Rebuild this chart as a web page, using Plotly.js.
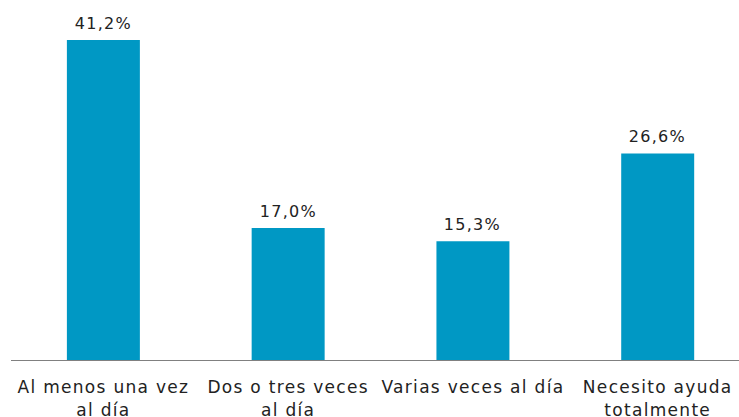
<!DOCTYPE html>
<html><head><meta charset="utf-8">
<script src="https://cdn.plot.ly/plotly-3.0.1.min.js"></script>
<style>
html,body{margin:0;padding:0;background:#fff}
#c{width:739px;height:417px}
#c .xtick text{letter-spacing:1.3px}
#c .annotation-text{letter-spacing:1.3px}
</style>
</head><body><div id="c"></div>
<script>
const categories = ["Al menos una vez<br>al día", "Dos o tres veces<br>al día", "Varias veces al día", "Necesito ayuda<br>totalmente"];
const values = [41.2, 17.0, 15.3, 26.6];
const labels = values.map(v => v.toFixed(1).replace('.', ',') + '%');
const font = 'DejaVu Sans, Verdana, sans-serif';

Plotly.newPlot('c', [{
  type: 'bar',
  x: [0, 1, 2, 3],
  y: values,
  marker: {color: '#0098C4'},
  hoverinfo: 'none'
}], {
  width: 739, height: 417,
  margin: {l: 11, r: 0, t: 0, b: 57},
  bargap: 0.605,
  paper_bgcolor: '#fff', plot_bgcolor: '#fff',
  showlegend: false,
  annotations: values.map((v, i) => ({
    x: i, y: v, xref: 'x', yref: 'y', text: labels[i], showarrow: false,
    yanchor: 'bottom', xanchor: 'center', yshift: 5,
    font: {family: font, size: 16, color: '#222'}
  })),
  xaxis: {
    range: [-0.5, 3.44],
    tickmode: 'array', tickvals: [0, 1, 2, 3], ticktext: categories,
    showline: true, linecolor: '#808080', linewidth: 1,
    ticks: '', showgrid: false, zeroline: false,
    ticklabelstandoff: 12,
    tickfont: {family: font, size: 17, color: '#222'}
  },
  yaxis: {range: [0, 46.35], visible: false, showgrid: false, zeroline: false}
}, {staticPlot: true});
</script></body></html>
